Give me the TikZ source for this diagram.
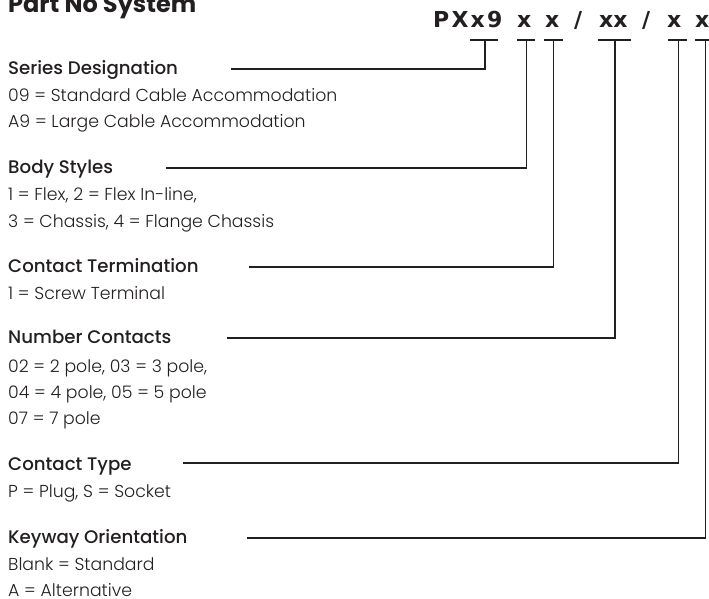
\documentclass[tikz,border=0pt]{standalone}
\usepackage{fontspec}
\setmainfont{Poppins}
\newfontfamily\medf{Poppins Medium}
\newfontfamily\lightf{Poppins Light}
\newfontfamily\boldf{Poppins Bold}
\newfontfamily\codef{DejaVu Sans Bold}
\newfontfamily\codesp{DejaVu Sans Bold}[LetterSpace=10]
\definecolor{ink}{HTML}{231F20}
\begin{document}
\begin{tikzpicture}[x=1pt,y=-1pt,
  txt/.style={anchor=base west,inner sep=0pt,text=ink},
  head/.style={txt,font=\medf\fontsize{18.2}{21}\selectfont},
  body/.style={txt,font=\lightf\fontsize{17.3}{20}\selectfont},
  code/.style={txt,font=\codef\fontsize{22}{26}\selectfont},
  lead/.style={draw=ink,line width=1.6pt,line cap=butt},
]
\useasboundingbox (0,0) rectangle (709,599);
\node[txt,font=\boldf\fontsize{24}{28}\selectfont] (title) at (8,13) {Part No System};
% code
\node[code,font=\codesp\fontsize{22}{26}\selectfont] (c1) at (433,28) {PXx9};
\node[code] (c2) at (517,28) {x};
\node[code] (c3) at (545,28) {x};
\node[code] (s1) at (574,28) {/};
\node[code] (c4) at (599,28) {xx};
\node[code] (s2) at (642,28) {/};
\node[code] (c5) at (667,28) {x};
\node[code] (c6) at (695,28) {x};
% texts
\node[head] (h1) at (8,75) {Series Designation};
\node[body] (h1a) at (8,102) {09 = Standard Cable Accommodation};
\node[body] (h1b) at (8,128) {A9 = Large Cable Accommodation};
\node[head] (h2) at (8,173) {Body Styles};
\node[body] (h2a) at (8,200) {1 = Flex, 2 = Flex In-line,};
\node[body] (h2b) at (8,227) {3 = Chassis, 4 = Flange Chassis};
\node[head] (h3) at (8,272) {Contact Termination};
\node[body] (h3a) at (8,299) {1 = Screw Terminal};
\node[head] (h4) at (8,343) {Number Contacts};
\node[body] (h4a) at (8,372) {02 = 2 pole, 03 = 3 pole,};
\node[body] (h4b) at (8,398) {04 = 4 pole, 05 = 5 pole};
\node[body] (h4c) at (8,424) {07 = 7 pole};
\node[head] (h5) at (8,470) {Contact Type};
\node[body] (h5a) at (8,497) {P = Plug, S = Socket};
\node[head] (h6) at (8,543) {Keyway Orientation};
\node[body] (h6a) at (8,570) {Blank = Standard};
\node[body] (h6b) at (8,596) {A = Alternative};
% bars and leaders
\foreach \n/\l/\r/\s/\y/\e in {1/470/498/485/69/231, 2/517/535/526.5/168/166, 3/544/563/553.5/267/249, 4/598/631/615/338/227, 5/668/687/678.5/463/183, 6/695/709/705.5/538/247}{
  \coordinate (bl\n) at (\l,40);
  \coordinate (br\n) at (\r,40);
  \coordinate (st\n) at (\s,40);
  \coordinate (en\n) at (\e,\y);
  \draw[lead] (bl\n) -- (br\n);
  \draw[lead] (st\n) |- (en\n);
}
\end{tikzpicture}
\end{document}
